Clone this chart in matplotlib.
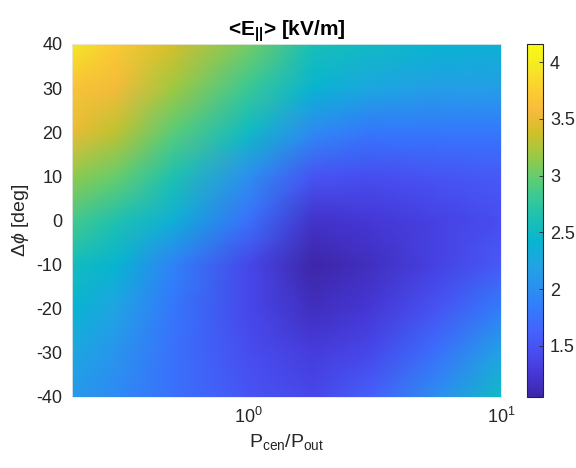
import numpy as np
import matplotlib
matplotlib.use('Agg')
import matplotlib.pyplot as plt
from matplotlib.colors import LinearSegmentedColormap

plt.rcParams['font.family'] = ['Liberation Sans', 'DejaVu Sans']
plt.rcParams['mathtext.fontset'] = 'custom'
plt.rcParams['mathtext.rm'] = 'Liberation Sans'
plt.rcParams['mathtext.it'] = 'Liberation Sans:italic'
plt.rcParams['mathtext.bf'] = 'Liberation Sans:bold'
plt.rcParams['axes.unicode_minus'] = False

# power ratio (log axis) and phase difference grid
p_ratio = [0.2, 0.3, 0.5, 1.0, 1.8, 3.0, 5.6, 10.0]
dphi = [-40, -30, -20, -10, 0, 10, 20, 30, 40]

# <E_par> in kV/m, one row per dphi value
e_par = [
    [2.10, 1.95, 1.75, 1.50, 1.40, 1.60, 2.00, 2.50],
    [2.25, 2.05, 1.75, 1.45, 1.30, 1.40, 1.75, 2.20],
    [2.40, 2.20, 1.80, 1.40, 1.15, 1.25, 1.50, 1.85],
    [2.55, 2.40, 1.90, 1.40, 1.05, 1.15, 1.35, 1.55],
    [2.85, 2.65, 2.35, 1.75, 1.20, 1.25, 1.35, 1.45],
    [3.15, 3.00, 2.65, 2.00, 1.50, 1.45, 1.50, 1.55],
    [3.50, 3.30, 2.95, 2.50, 1.95, 1.80, 1.80, 1.80],
    [3.65, 3.55, 3.20, 2.80, 2.40, 2.25, 2.15, 2.15],
    [3.95, 3.70, 3.40, 3.05, 2.60, 2.50, 2.40, 2.35],
]
cbar_ticks = [1.5, 2, 2.5, 3, 3.5, 4]
cbar_labels = ['1.5', '2', '2.5', '3', '3.5', '4']

# parula colormap (every 4th entry of the 64-colour table)
parula = LinearSegmentedColormap.from_list('parula', [
    (0.2422, 0.1504, 0.6603), (0.2706, 0.2147, 0.8364),
    (0.2813, 0.3006, 0.9414), (0.2699, 0.3892, 0.9906),
    (0.1963, 0.4847, 0.9892), (0.1687, 0.5703, 0.9359),
    (0.1248, 0.6459, 0.8883), (0.0297, 0.7082, 0.8163),
    (0.0964, 0.7500, 0.7120), (0.2161, 0.7843, 0.5923),
    (0.3909, 0.8029, 0.4354), (0.6174, 0.7876, 0.2612),
    (0.8203, 0.7498, 0.1535), (0.9728, 0.7298, 0.2394),
    (0.9892, 0.8136, 0.1885), (0.9597, 0.9135, 0.1423),
    (0.9769, 0.9839, 0.0805),
])

fig = plt.figure(figsize=(5.76, 4.68), dpi=100)
ax = fig.add_axes([0.125, 0.152, 0.745, 0.754])
cax = fig.add_axes([0.915, 0.152, 0.028, 0.754])

X, Y = np.meshgrid(p_ratio, dphi)
mesh = ax.pcolormesh(X, Y, np.array(e_par), shading='gouraud', cmap=parula,
                     vmin=1.05, vmax=4.16)
ax.set_xscale('log')
ax.set_xlim(0.2, 10)
ax.set_ylim(-40, 40)
ax.set_yticks(range(-40, 41, 10))
ax.set_xticks([1, 10])
ax.set_xticklabels([r'$10^0$', r'$10^1$'])
ax.minorticks_off()
ax.tick_params(length=0, labelsize=13, colors='#262626', pad=7)
for s in ax.spines.values():
    s.set_color('#e8e8e8')
    s.set_linewidth(0.6)

ax.set_title(r'<E$_{\mathbf{||}}$> [kV/m]', fontsize=15, fontweight='bold', pad=6)
ax.set_xlabel(r'P$_{\mathrm{cen}}$/P$_{\mathrm{out}}$', fontsize=14, color='#262626')
ax.set_ylabel(r'$\Delta\phi$ [deg]', fontsize=14, color='#262626')

cb = fig.colorbar(mesh, cax=cax)
cb.set_ticks(cbar_ticks)
cb.set_ticklabels(cbar_labels)
cb.ax.tick_params(direction='in', length=3, width=0.6, labelsize=13,
                  colors='#262626', pad=5)
cb.outline.set_edgecolor('#262626')
cb.outline.set_linewidth(0.8)

fig.savefig('out.png', dpi=100)
